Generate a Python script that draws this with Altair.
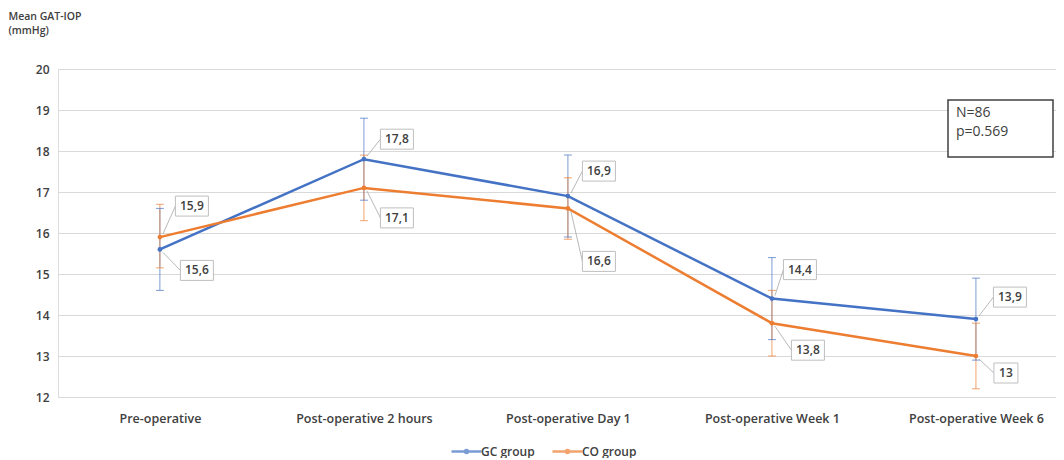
import altair as alt
import pandas as pd

# ---------------- data ----------------
categories = ["Pre-operative", "Post-operative 2 hours", "Post-operative Day 1",
              "Post-operative Week 1", "Post-operative Week 6"]
groups = ["GC group", "CO group"]
gc_mean = [15.6, 17.8, 16.9, 14.4, 13.9]
gc_low = [14.6, 16.8, 15.9, 13.4, 12.9]
gc_high = [16.6, 18.8, 17.9, 15.4, 14.9]
co_mean = [15.9, 17.1, 16.6, 13.8, 13.0]
co_low = [15.15, 16.3, 15.85, 13.0, 12.2]
co_high = [16.7, 17.9, 17.35, 14.6, 13.8]
y_ticks = [12, 13, 14, 15, 16, 17, 18, 19, 20]
annotation_text = "N=86\np=0.569"

# ---------------- styles ----------------
COLORS = ["#4472C4", "#ED7D31"]
FONT = "Open Sans"
TXT = "#404040"
# pixel offsets of each value label from its point (dx, dy)
LABEL_OFFSETS = {
    "GC group": [(37, 21), (33, -20), (31, -25), (28, -29), (34, -22)],
    "CO group": [(32, -31), (33, 30), (31, 53), (36, 27), (30, 17)],
}
LEGEND_SYMBOL = "M-1.5,0H1.5M-0.15,0a0.15,0.15 0 1,0 0.3,0a0.15,0.15 0 1,0 -0.3,0"

rows = []
for g, means, lows, highs in [("GC group", gc_mean, gc_low, gc_high),
                              ("CO group", co_mean, co_low, co_high)]:
    for i, c in enumerate(categories):
        rows.append({"cat": c, "group": g, "value": means[i],
                     "low": lows[i], "high": highs[i],
                     "label": f"{means[i]:g}".replace(".", ","),
                     "idx": i})
df = pd.DataFrame(rows)

x_enc = alt.X("cat:N", sort=categories, title=None,
              scale=alt.Scale(type="point", padding=0.446, align=0.56),
              axis=alt.Axis(labelAngle=0, ticks=False, domain=True, domainColor="#d9d9d9",
                            labelFontSize=12.5, labelColor=TXT, labelPadding=15,
                            labelFont=FONT, labelFontWeight=600, grid=False))
y_scale = alt.Scale(domain=[12, 20], nice=False, zero=False)
y_enc = alt.Y("value:Q", scale=y_scale,
              title=["Mean GAT-IOP", "(mmHg)"],
              axis=alt.Axis(values=y_ticks, grid=True, gridColor="#d9d9d9", domain=False,
                            ticks=False, labelFontSize=12, labelColor=TXT,
                            labelPadding=9, labelFont=FONT, labelFontWeight=600,
                            titleAngle=0, titleAlign="left", titleBaseline="top",
                            titleX=-50, titleY=-58, titleFontSize=10.5,
                            titleFontWeight=600, titleColor=TXT,
                            titleFont=FONT, titleLineHeight=14))
color_enc = alt.Color("group:N", sort=groups,
                      scale=alt.Scale(domain=groups, range=COLORS),
                      legend=alt.Legend(orient="none", legendX=397, legendY=371,
                                        direction="horizontal", title=None,
                                        symbolType=LEGEND_SYMBOL,
                                        symbolStrokeWidth=2.5, symbolSize=400,
                                        labelFontSize=12, labelFont=FONT,
                                        labelFontWeight=600, labelOffset=3,
                                        labelColor=TXT, columnPadding=12))

base = alt.Chart(df)

err = base.mark_rule(strokeWidth=1, opacity=0.7).encode(
    x=x_enc, y=alt.Y("low:Q", scale=y_scale), y2="high:Q", color=color_enc)
cap_lo = base.mark_tick(orient="horizontal", size=8, thickness=1, opacity=0.7).encode(
    x=x_enc, y=alt.Y("low:Q", scale=y_scale), color=color_enc)
cap_hi = base.mark_tick(orient="horizontal", size=8, thickness=1, opacity=0.7).encode(
    x=x_enc, y=alt.Y("high:Q", scale=y_scale), color=color_enc)

line = base.mark_line(strokeWidth=2.5).encode(x=x_enc, y=y_enc, color=color_enc,
                                               order="idx:Q")
pts = base.mark_circle(size=22, opacity=1).encode(x=x_enc, y=alt.Y("value:Q", scale=y_scale),
                                                  color=color_enc)

label_layers = []
for g in groups:
    for i, c in enumerate(categories):
        dx, dy = LABEL_OFFSETS[g][i]
        sub = base.transform_filter(
            (alt.datum.group == g) & (alt.datum.cat == c))
        lab = f"{df[(df.group == g) & (df.cat == c)].value.iloc[0]:g}"
        w = 33 if len(lab) > 2 else 24
        sgn = 1 if dy > 0 else -1
        leader = sub.mark_rule(strokeWidth=0.8, color="#a6a6a6",
                               xOffset=3, yOffset=3 * sgn,
                               x2Offset=dx - w / 2, y2Offset=dy).encode(
            x=x_enc, x2="cat:N", y=alt.Y("value:Q", scale=y_scale), y2="value:Q")
        box = sub.mark_rect(fill="white", stroke="#bfbfbf", strokeWidth=1,
                            xOffset=dx - w / 2, x2Offset=dx + w / 2,
                            yOffset=dy - 10, y2Offset=dy + 10).encode(
            x=x_enc, x2="cat:N", y=alt.Y("value:Q", scale=y_scale), y2="value:Q")
        txt = sub.mark_text(fontSize=12, font=FONT, fontWeight=600, color=TXT,
                            xOffset=dx, yOffset=dy).encode(
            x=x_enc, y=alt.Y("value:Q", scale=y_scale), text="label:N")
        label_layers += [leader, box, txt]

one = alt.Data(values=[{"a": 1}])
ann_box = alt.Chart(one).mark_rect(fill="white", stroke="#404040", strokeWidth=1.5).encode(
    x=alt.value(890), x2=alt.value(995), y=alt.value(31), y2=alt.value(88))
ann_txt = alt.Chart(one).mark_text(align="left", baseline="top", lineBreak="\n",
                                   fontSize=14, font=FONT, color=TXT,
                                   lineHeight=19).encode(
    x=alt.value(898), y=alt.value(37), text=alt.value(annotation_text))

chart = alt.layer(err, cap_lo, cap_hi, line, pts, *label_layers, ann_box, ann_txt).properties(
    width=998, height=328,
    padding={"left": 0, "top": 3, "right": 0, "bottom": 0}
).configure_view(stroke=None).configure(font=FONT)

chart.save("out.html", embed_options={"renderer": "svg", "actions": False})
